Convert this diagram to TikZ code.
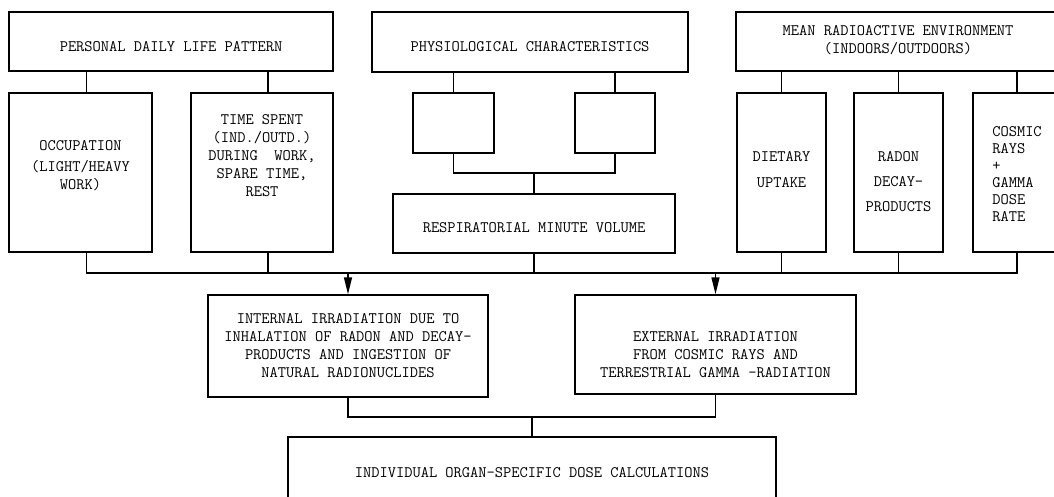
\documentclass[tikz,border=0pt]{standalone}
\usetikzlibrary{arrows.meta}

\begin{document}
\begin{tikzpicture}[x=1pt, y=-1pt,
    every node/.style={font=\ttfamily\fontsize{16}{18}\selectfont,
      align=center, inner sep=0pt},
    head/.style={draw, line width=2.8pt},
    block/.style={draw, line width=1.4pt},
    link/.style={line width=1.4pt},
    down/.style={link, -{Triangle[length=17pt, width=8pt]}}]
    \path [use as bounding box]
      (0, 0) rectangle (1054, 497);

    \newcommand{\ablock}[7]{
      \node[#1, minimum width=#4, minimum height=#5,
        label={[yshift=#6]center:{#7}}] (#2) at #3 {};
    }
    % top row
    \ablock{head}{life}{(171, 41.5)}{324pt}{59pt}{-5pt}{PERSONAL DAILY LIFE PATTERN}
    \ablock{head}{phys}{(530, 42)}{316pt}{60pt}{-5pt}{PHYSIOLOGICAL CHARACTERISTICS}
    \ablock{head}{env}{(898, 41.5)}{324pt}{59pt}{1pt}{MEAN RADIOACTIVE ENVIRONMENT\\(INDOORS/OUTDOORS)}
    % second row
    \ablock{block}{occ}{(80.5, 172.5)}{143pt}{159pt}{7pt}{OCCUPATION\\[3pt](LIGHT/HEAVY\\WORK)}
    \ablock{block}{time}{(262, 172.5)}{142pt}{159pt}{17pt}{TIME SPENT\\(IND./OUTD.)\\DURING\ \ WORK,\\SPARE TIME,\\REST}
    \ablock{block}{p1}{(453.5, 123)}{81pt}{60pt}{0pt}{}
    \ablock{block}{p2}{(615, 123)}{80pt}{60pt}{0pt}{}
    \ablock{block}{resp}{(534, 223.5)}{282pt}{59pt}{-4pt}{RESPIRATORIAL MINUTE VOLUME}
    \ablock{block}{diet}{(781.5, 172.5)}{89pt}{159pt}{3pt}{DIETARY\\[8pt]UPTAKE}
    \ablock{block}{radon}{(898.5, 172.5)}{89pt}{159pt}{-9pt}{RADON\\[7pt]DECAY-\\[7pt]PRODUCTS}
    \node[block, minimum width=88pt, minimum height=159pt,
      label={[align=left, yshift=-2pt]center:{COSMIC\\[-1pt]RAYS\\[-1pt]+\\[-1pt]GAMMA\\[-1pt]DOSE\\[-1pt]RATE}}]
      (cosm) at (1017, 172.5) {};
    % results
    \ablock{block}{intl}{(348, 346)}{280pt}{102pt}{0pt}{INTERNAL IRRADIATION DUE TO\\INHALATION OF RADON AND DECAY-\\PRODUCTS AND INGESTION OF\\NATURAL RADIONUCLIDES}
    \ablock{block}{ext}{(715.5, 344.5)}{281pt}{99pt}{-10pt}{EXTERNAL IRRADIATION\\FROM COSMIC RAYS AND\\TERRESTRIAL GAMMA -RADIATION}
    \ablock{block}{dose}{(532, 473)}{488pt}{72pt}{0pt}{INDIVIDUAL ORGAN-SPECIFIC DOSE CALCULATIONS}

    % connectors
    \foreach \n in {occ, time} {
      \coordinate (\n-top) at ([xshift=6pt]\n.north);
      \coordinate (\n-bot) at ([xshift=6pt]\n.south);
    }
    \coordinate (pjoin) at (0, 173);
    \coordinate (bus) at (0, 273);
    \coordinate (low) at (0, 417);

    \foreach \n in {occ-top, time-top}
      \draw[link] (\n) -- (\n |- life.south);
    \foreach \n in {p1, p2}
      \draw[link] (\n.north) -- (\n.north |- phys.south);
    \foreach \n in {diet, radon, cosm}
      \draw[link] (\n.north) -- (\n.north |- env.south);

    \draw[link] (p1.south) |- (pjoin -| p2.south) -- (p2.south);
    \draw[link] (pjoin -| resp.north) -- (resp.north);

    \draw[link] (occ-bot) |- (bus -| cosm.south) -- (cosm.south);
    \foreach \n in {time-bot, resp.south, diet.south, radon.south}
      \draw[link] (\n) -- (bus -| \n);
    \foreach \n in {intl, ext}
      \draw[down] (bus -| \n.north) -- (\n.north);

    \draw[link] (intl.south) |- (low -| ext.south) -- (ext.south);
    \draw[link] (low -| dose.north) -- (dose.north);

  \end{tikzpicture}
\end{document}
